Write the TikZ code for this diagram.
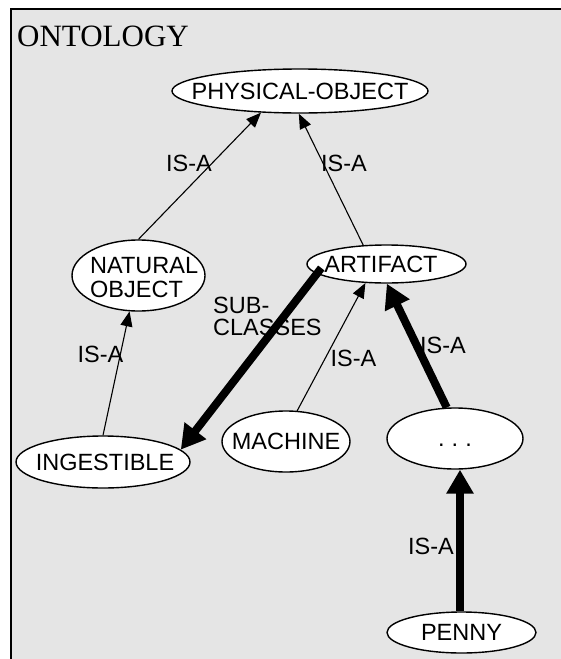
\documentclass[tikz,border=0pt]{standalone}
\usepackage{fontspec}
\setmainfont{Liberation Sans}
\newfontfamily\titlefont{Liberation Serif}
\usetikzlibrary{arrows.meta,shapes.geometric}

\definecolor{panelgray}{HTML}{E5E5E5}

\tikzset{
  concept/.style={ellipse, draw=black, line width=1.4pt, fill=white,
    inner sep=0pt, font=\fontsize{23.5}{24}\selectfont},
  capline/.style={text height=16.8pt, text depth=0pt},
  isa/.style={-{Triangle[length=15pt,width=12pt]}, line width=1.1pt},
  strong/.style={-{Triangle[length=24pt,width=26pt]}, line width=8pt},
  edgelabel/.style={inner sep=0pt, text height=16.8pt, text depth=0pt,
    font=\fontsize{23.5}{24}\selectfont},
}

\begin{document}
\begin{tikzpicture}[x=1pt,y=-1pt]
  \useasboundingbox (0,0) rectangle (561,659);

  % panel
  \fill[panelgray] (11,9) rectangle (600,700);
  \draw[line width=1.5pt] (11,700) -- (11,9) -- (600,9);
  \node[anchor=base west, inner sep=0pt,
        font=\titlefont\fontsize{31}{32}\selectfont] (title) at (17,46) {ONTOLOGY};

  % concepts
  \node[concept, capline, minimum width=256pt, minimum height=44pt]
    (po) at (300,91) {\makebox[0pt]{PHYSICAL-OBJECT}};
  \node[concept, minimum width=133pt, minimum height=71pt]
    (nat) at (138.5,275.5) {};
  \node[anchor=north west, align=left, inner sep=0pt,
        font=\fontsize{23.5}{24}\selectfont] (natlabel) at (90,257) {NATURAL\\OBJECT};
  \node[concept, capline, minimum width=159pt, minimum height=38pt]
    (art) at (386.5,264) {\makebox[0pt]{\hspace{-11pt}ARTIFACT}};
  \node[concept, capline, minimum width=174pt, minimum height=52pt]
    (ing) at (103,462) {\makebox[0pt]{\hspace{4pt}INGESTIBLE}};
  \node[concept, capline, minimum width=128pt, minimum height=61pt]
    (mach) at (286,441.5) {\makebox[0pt]{MACHINE}};
  \node[concept, capline, minimum width=136pt, minimum height=61pt]
    (dots) at (455,438.5) {\makebox[0pt]{.\hspace{7pt}.\hspace{7pt}.}};
  \node[concept, capline, minimum width=149pt, minimum height=41pt]
    (penny) at (461.5,632.5) {\makebox[0pt]{PENNY}};

  % links
  \draw[isa] (nat.north) -- (po.209);
  \draw[isa] (art.141) -- (po.267);
  \draw[isa] (ing.north) -- (nat.256);
  \draw[isa] (mach.70) -- (art.222);
  \draw[strong] ([xshift=15pt,yshift=-4pt]art.west) -- (ing.9);
  \draw[strong] (dots.105) -- (art.271);
  \draw[strong] ([xshift=-1.5pt]penny.north) -- ([xshift=-1.5pt]penny.north |- dots.south);

  % link labels
  \node[edgelabel] (l1) at (189,163) {IS-A};
  \node[edgelabel] (l2) at (344,163) {IS-A};
  \node[edgelabel] (l3) at (100.5,354.5) {IS-A};
  \node[anchor=north west, align=left, inner sep=0pt,
        font=\fontsize{23.5}{22}\selectfont] (l4) at (213,297) {SUB-\\CLASSES};
  \node[edgelabel] (l5) at (353.5,358.5) {IS-A};
  \node[edgelabel] (l6) at (443,345.5) {IS-A};
  \node[edgelabel] (l7) at (431,546.5) {IS-A};
\end{tikzpicture}
\end{document}
